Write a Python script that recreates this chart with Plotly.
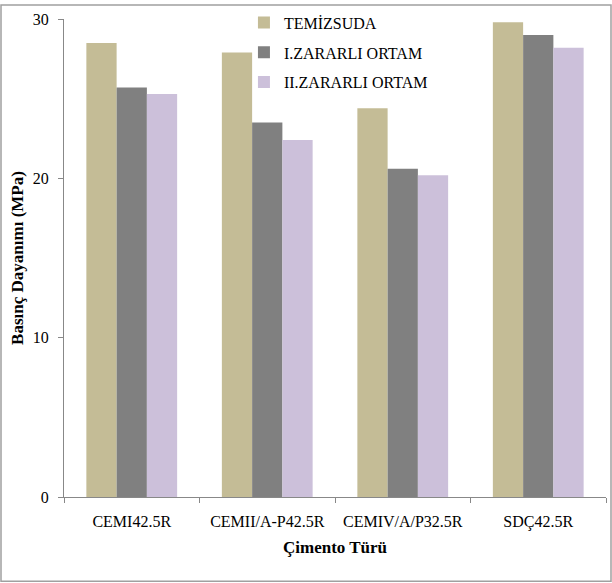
import plotly.graph_objects as go

categories = ["CEMI42.5R", "CEMII/A-P42.5R", "CEMIV/A/P32.5R", "SDÇ42.5R"]
series_names = ["TEMİZSUDA", "I.ZARARLI ORTAM", "II.ZARARLI ORTAM"]
temizsuda = [28.5, 27.9, 24.4, 29.8]
zararli_1 = [25.7, 23.5, 20.6, 29.0]
zararli_2 = [25.3, 22.4, 20.2, 28.2]
colors = ["#C4BC96", "#808080", "#CCC0DA"]

W, H = 612, 583
L, R, T, B = 64, 6, 15, 86
pw, ph = W - L - R, H - T - B

fig = go.Figure()
for i, (name, vals, c) in enumerate(zip(series_names, [temizsuda, zararli_1, zararli_2], colors)):
    fig.add_trace(go.Bar(x=categories, y=vals, name=name, marker_color=c,
                         marker_line_width=0, legendgroup=str(i)))

font = "Liberation Serif, Times New Roman, serif"
fig.update_layout(
    width=W, height=H,
    margin=dict(l=L, r=R, t=T, b=B),
    paper_bgcolor="white", plot_bgcolor="white",
    barmode="group", bargap=0.33, bargroupgap=0,
    font=dict(family=font, size=15, color="black"),
    legend=dict(x=0.332, y=1.028, xanchor="left", yanchor="top",
                bgcolor="rgba(0,0,0,0)", font=dict(size=16, family=font),
                traceorder="grouped", tracegroupgap=6, itemwidth=30),
    xaxis=dict(showline=True, linecolor="#888888", linewidth=1,
               ticks="outside", ticklen=5, tickcolor="#888888",
               tickson="boundaries", showgrid=False, ticklabelstandoff=10,
               tickfont=dict(size=16, family=font),
               title=dict(text="<b>Çimento Türü</b>", font=dict(size=17, family=font), standoff=10)),
    yaxis=dict(range=[0, 30], tickvals=[0, 10, 20, 30], showline=True,
               linecolor="#888888", linewidth=1, ticks="outside", ticklen=5,
               tickcolor="#888888", showgrid=False, zeroline=False, ticklabelstandoff=6,
               tickfont=dict(size=16, family=font),
               title=dict(text="<b>Basınç Dayanımı (MPa)</b>", font=dict(size=17, family=font), standoff=4)),
    shapes=[dict(type="rect", xref="paper", yref="paper",
                 x0=-(L - 1) / pw, x1=1 + (R - 1) / pw,
                 y0=-(B - 1) / ph, y1=1 + (T - 1) / ph,
                 line=dict(color="#A0A0A0", width=1.5), fillcolor="rgba(0,0,0,0)")],
)
fig.write_html("out.html", config={"displayModeBar": False},
               post_script="document.body.style.margin='0';document.body.style.overflow='hidden';")
